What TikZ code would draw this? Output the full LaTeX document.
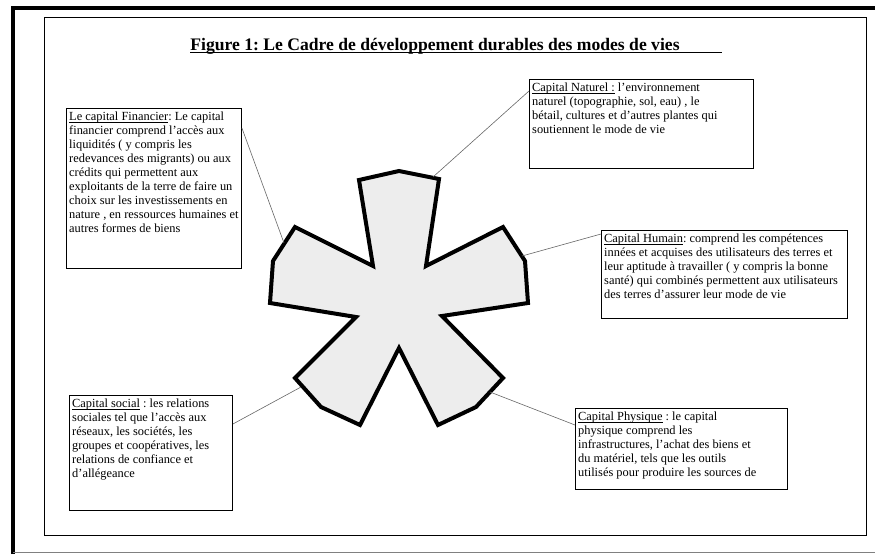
\documentclass[tikz,border=0pt]{standalone}
\usepackage{fontspec}
\setmainfont{Liberation Serif}
\frenchspacing
\newcommand\myul[1]{\setbox0\hbox{#1}\rlap{\rule[-1.6pt]{\wd0}{0.6pt}}\box0\relax}
\begin{document}
\begin{tikzpicture}[x=1pt,y=-1pt,
  boxst/.style={draw=black,line width=0.9pt,fill=white,anchor=north west,inner sep=0pt},
  txt/.style={anchor=north west,inner sep=0pt,align=left,font=\fontsize{12.4}{13.9}\selectfont},
  conn/.style={draw=gray!80!black,line width=0.6pt},
  starst/.style={draw=black,line width=4pt,fill=black!7,line join=miter}]
\useasboundingbox (0,0) rectangle (875,554);
% frame
\draw[line width=4.5pt] (13,554) -- (13,8) -- (875,8);
\draw[gray,line width=1pt] (13,552) -- (875,552);
\draw[line width=0.9pt] (44.5,17.5) rectangle (866,535);
% title
\node[anchor=base,inner sep=0pt,font=\fontsize{17.6}{19}\selectfont\bfseries] (title) at (435,50)
  {Figure 1: Le Cadre de développement durables des modes de vies};
\draw[line width=0.9pt] ([yshift=-2pt]title.base west) -- ([yshift=-2pt]title.base west -| 722,0);
% star
\draw[starst] (359,180) -- (399,171) -- (439,179) -- (426,266) -- (503,227) -- (525,261)
  -- (528,303) -- (442,316) -- (503,378) -- (476,407) -- (438,425) -- (399,348)
  -- (360,425) -- (321,407) -- (295,378) -- (356,317) -- (270,303) -- (273,261)
  -- (295,227) -- (373,266) -- cycle;
\coordinate (sf) at (284,243);
\coordinate (sn) at (433,177);
\coordinate (sh) at (522,256);
\coordinate (ss) at (301,387);
\coordinate (sp) at (490,392);
% boxes
\node[boxst,minimum width=175pt,minimum height=160pt] (fin) at (66,108) {};
\node[txt] at ([shift={(3,4)}]fin.north west) {\myul{Le capital Financier}: Le capital\\
financier comprend l’accès aux\\
liquidités ( y compris les\\
redevances des migrants) ou aux\\
crédits qui permettent aux\\
exploitants de la terre de faire un\\
choix sur les investissements en\\
nature , en ressources humaines et\\
autres formes de biens};
\node[boxst,minimum width=224pt,minimum height=89pt] (nat) at (529,79) {};
\node[txt] at ([shift={(3,4)}]nat.north west) {\myul{Capital Naturel :} l’environnement\\
naturel (topographie, sol, eau) , le\\
bétail, cultures et d’autres plantes qui\\
soutiennent le mode de vie};
\node[boxst,minimum width=246pt,minimum height=88pt] (hum) at (601,230) {};
\node[txt] at ([shift={(3,4)}]hum.north west) {\myul{Capital Humain}: comprend les compétences\\
innées et acquises des utilisateurs des terres et\\
leur aptitude à travailler ( y compris la bonne\\
santé) qui combinés permettent aux utilisateurs\\
des terres d’assurer leur mode de vie};
\node[boxst,minimum width=163pt,minimum height=115pt] (soc) at (69,395) {};
\node[txt] at ([shift={(3,4)}]soc.north west) {\myul{Capital social} : les relations\\
sociales tel que l’accès aux\\
réseaux, les sociétés, les\\
groupes et coopératives, les\\
relations de confiance et\\
d’allégeance};
\node[boxst,minimum width=212pt,minimum height=81pt] (phy) at (575,408) {};
\node[txt] at ([shift={(3,4)}]phy.north west) {\myul{Capital Physique} : le capital\\
physique comprend les\\
infrastructures, l’achat des biens et\\
du matériel, tels que les outils\\
utilisés pour produire les sources de};
% connectors
\draw[conn] (fin.north east |- 0,128) -- (sf);
\draw[conn] (nat.north west |- 0,91) -- (sn);
\draw[conn] (hum.north west |- 0,234) -- (sh);
\draw[conn] (soc.north east |- 0,424) -- (ss);
\draw[conn] (phy.north west |- 0,425) -- (sp);
\end{tikzpicture}
\end{document}
